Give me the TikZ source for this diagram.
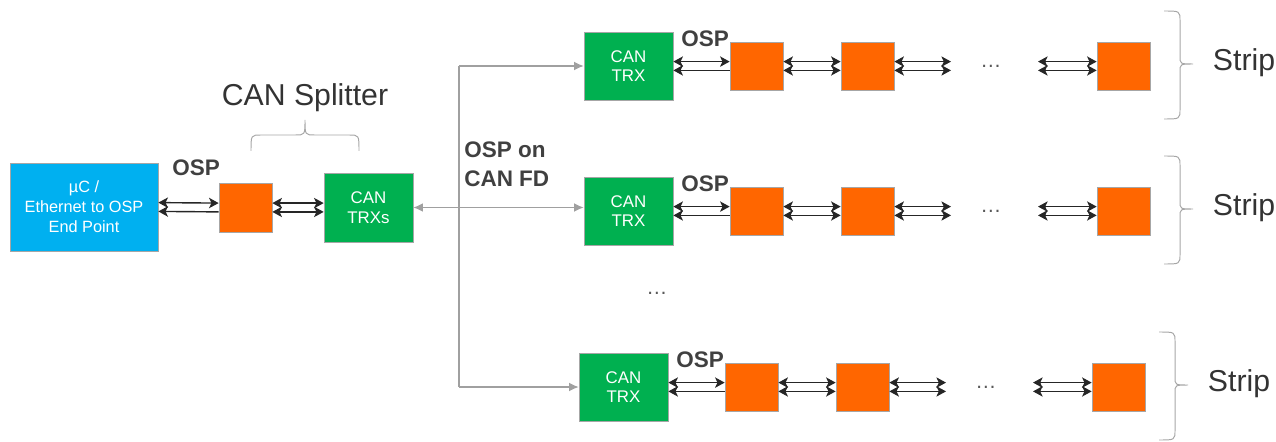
\documentclass[tikz,border=0pt]{standalone}
\usepackage{fontspec}
\setmainfont{Liberation Sans}
\usetikzlibrary{arrows.meta, positioning, calc}

\definecolor{ospblue}{RGB}{0,176,240}
\definecolor{trxgreen}{RGB}{0,176,80}
\definecolor{ledorange}{RGB}{255,102,0}
\definecolor{textgray}{RGB}{64,64,64}
\definecolor{busgray}{RGB}{160,160,160}

\tikzset{
  box/.style={draw=black!35, line width=0.5pt, inner sep=0pt, text=white, align=center},
  trx/.style={box, fill=trxgreen, minimum width=22.25mm, minimum height=17mm,
    font=\fontsize{12}{14}\selectfont},
  led/.style={box, fill=ledorange, minimum width=13.25mm, minimum height=12mm},
  osp/.style={font=\fontsize{16}{20.5}\selectfont\bfseries, text=textgray, inner sep=0pt},
  title/.style={font=\fontsize{21.5}{24}\selectfont, text=black!80, inner sep=0pt},
  more/.style={font=\fontsize{15}{15}\selectfont, text=black!65, inner sep=0pt},
  wire/.style={draw=black!85, line width=1pt},
  canbus/.style={draw=busgray, line width=0.8pt},
  bracket/.style={draw=black!35, line width=0.7pt},
  Osp/.tip={Stealth[length=2.4mm, width=2.6mm, inset=0.6mm]},
  Bus/.tip={Latex[length=2.4mm, width=2.2mm]},
}

% two parallel OSP wires: from, to, tips of upper wire, tips of lower wire
\newcommand\osppair[4]{%
  \draw[wire,#3] ([yshift=1.1mm]#1) -- ([yshift=1.1mm]#2);
  \draw[wire,#4] ([yshift=-1.1mm]#1) -- ([yshift=-1.1mm]#2);}

\begin{document}
\begin{tikzpicture}[x=0.25mm, y=-0.25mm]
  \useasboundingbox (0,0) rectangle (1276,442);

  % end point and splitter
  \node[box, fill=ospblue, minimum width=37mm, minimum height=22mm,
    font=\fontsize{11.6}{14.2}\selectfont] (uc) at (84,207) {µC /\\Ethernet to OSP\\End Point};
  \node[led, minimum height=12.25mm] (ledsp) at (245.5,207.5) {};
  \node[trx, minimum height=17.25mm] (trxs) at (368.5,207.5) {CAN\\TRXs};
  \node[osp] (ospuc) at (196,168) {OSP};
  \node[title] (splitter) at (305,98) {CAN Splitter};
  \draw[bracket] (251,151) .. controls (251,135) .. (261,135) -- (295,135)
    .. controls (305,135) .. (305,120) .. controls (305,135) .. (315,135) -- (349,135)
    .. controls (359,135) .. (359,151);

  \osppair{uc.east}{ledsp.west}{Osp-Osp}{Osp-}
  \osppair{ledsp.east}{trxs.west}{Osp-Osp}{Osp-Osp}

  % strips
  \foreach \id/\dx/\cy in {a/0/66, b/0/211, c/-5/387} {
    \begin{scope}[shift={(\dx,0)}]
      \node[trx] (trx\id) at (628.5,\cy) {CAN\\TRX};
      \node[led] (led\id1) at (756.5,\cy) {};
      \node[led] (led\id2) at (867.5,\cy) {};
      \node[led] (led\id3) at (1123.5,\cy) {};
      \coordinate (out\id) at (951,\cy);
      \coordinate (in\id) at (1038,\cy);
      \node[more] (dots\id) at (991,\cy) {\dots};
      \node[osp, anchor=west] (osp\id) at (681,\cy-27) {OSP};

      \osppair{trx\id.east}{led\id1.west}{Osp-Osp}{Osp-}
      \osppair{led\id1.east}{led\id2.west}{Osp-Osp}{Osp-Osp}
      \osppair{led\id2.east}{out\id}{Osp-Osp}{Osp-Osp}
      \osppair{in\id}{led\id3.west}{Osp-Osp}{Osp-Osp}

      \draw[bracket] (1164,\cy-55) .. controls (1180,\cy-55) .. (1180,\cy-45) -- (1180,\cy-10)
        .. controls (1180,\cy-2) .. (1193,\cy-2) .. controls (1180,\cy-2) .. (1180,\cy+6)
        -- (1180,\cy+43) .. controls (1180,\cy+53) .. (1164,\cy+53);
      \node[title] (strip\id) at (1244,\cy-3) {Strip};
    \end{scope}
  }
  \node[more] (moredots) at (657,293) {\dots};

  % CAN FD distribution
  \coordinate (split) at (459,207.5);
  \draw[canbus, Bus-Bus] (trxs.east) -- (trxs.east -| trxb.west);
  \draw[canbus] (split |- trxa.west) -- (split |- trxc.west);
  \draw[canbus, -Bus] (split |- trxa.west) -- (trxa.west);
  \draw[canbus, -Bus] (split |- trxc.west) -- (trxc.west);
  \node[osp, anchor=north west, align=left] (canfd) at (464,142) {OSP on\\CAN FD};
\end{tikzpicture}
\end{document}
